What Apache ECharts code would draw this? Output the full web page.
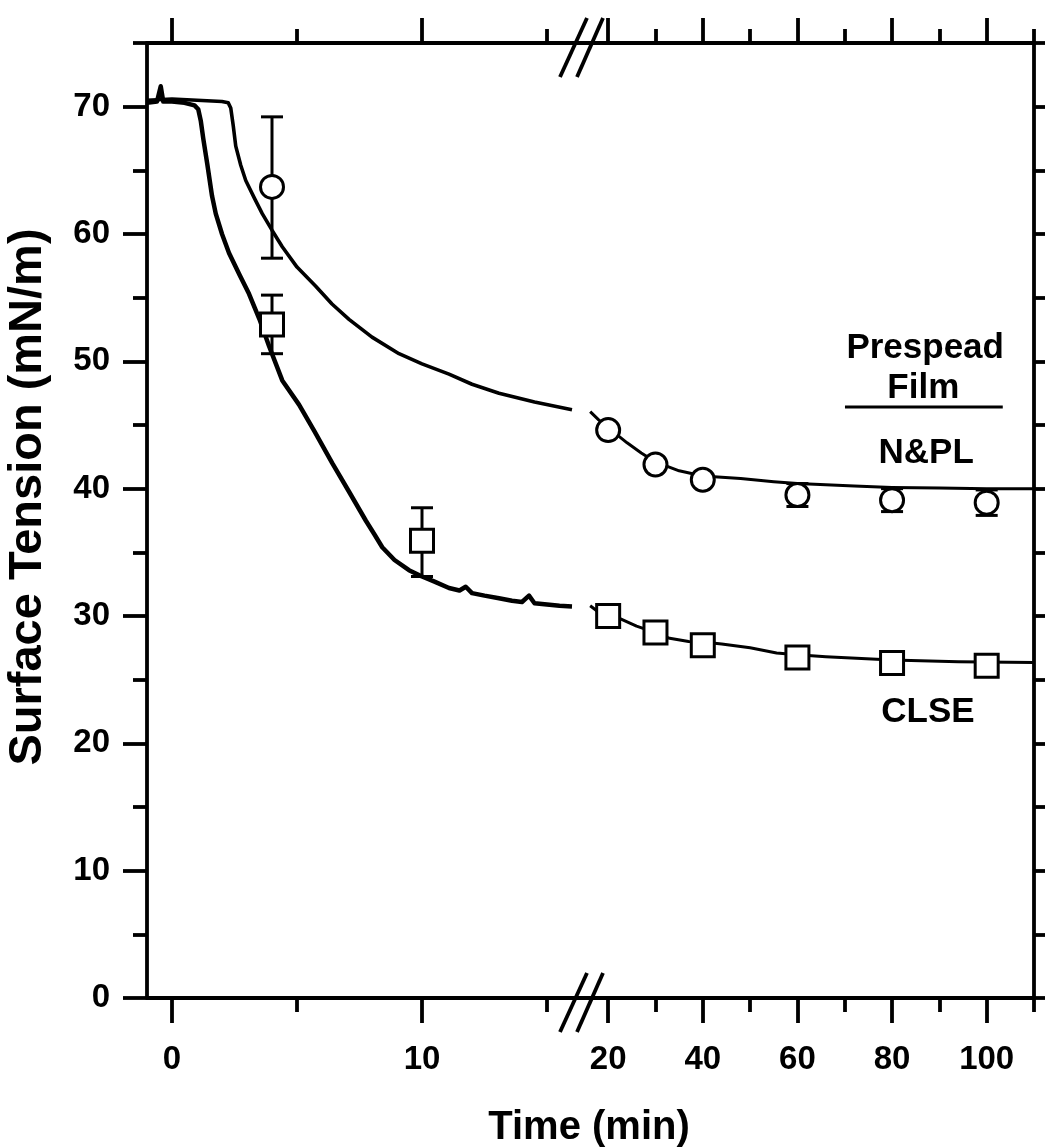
<!DOCTYPE html>
<html>
<head>
<meta charset="utf-8">
<script src="https://cdn.jsdelivr.net/npm/echarts@6/dist/echarts.min.js"></script>
<style>
html, body { margin: 0; padding: 0; background: #fff; }
#main { width: 1045px; height: 1147px; }
</style>
</head>
<body>
<div id="main"></div>
<script>
// values: time in min, surface tension in mN/m
// left part of the broken time axis (-1 .. 16.5 min)
var clseTimeA    = [-1.0, -0.6, -0.45, -0.35, 0, 0.5, 0.9, 1.05, 1.15, 1.25, 1.41, 1.6, 1.75, 2.0, 2.28, 2.7, 3.08, 3.5, 3.88, 4.41, 5.08, 5.7, 6.41, 7.1, 7.75, 8.1, 8.41, 8.9, 9.48, 10.0, 10.5, 11.08, 11.5, 11.75, 12.0, 12.5, 13.08, 13.6, 14.0, 14.28, 14.5, 15.0, 15.5, 16.0];
var clseTensionA = [70.3, 70.4, 71.6, 70.4, 70.4, 70.3, 70.1, 69.8, 68.9, 67.5, 65.5, 63.0, 61.6, 60.0, 58.5, 56.8, 55.3, 53.3, 51.2, 48.5, 46.6, 44.5, 42.0, 39.7, 37.5, 36.4, 35.4, 34.4, 33.6, 33.1, 32.7, 32.2, 32.0, 32.3, 31.8, 31.6, 31.4, 31.2, 31.1, 31.6, 31.0, 30.9, 30.8, 30.75];
var nplTimeA     = [-1.0, 0, 1.0, 2.0, 2.25, 2.35, 2.45, 2.55, 2.75, 2.95, 3.3, 3.61, 4.0, 4.41, 5.0, 5.75, 6.4, 7.08, 8.0, 9.08, 10.0, 11.08, 12.0, 13.08, 14.5, 16.0];
var nplTensionA  = [70.5, 70.6, 70.5, 70.4, 70.3, 69.9, 68.5, 66.9, 65.4, 64.2, 62.8, 61.6, 60.3, 59.0, 57.4, 55.9, 54.5, 53.3, 51.9, 50.6, 49.8, 49.0, 48.2, 47.5, 46.8, 46.2];

// right part of the broken time axis (15 .. 110 min)
var clseTimeB    = [16.2, 18, 20, 22.5, 26, 30, 33, 37, 40, 44, 50, 55.6, 60, 66, 80, 94, 110];
var clseTensionB = [30.8, 30.3, 30.0, 29.8, 29.2, 28.7, 28.25, 28.0, 27.95, 27.8, 27.5, 27.1, 26.95, 26.8, 26.55, 26.4, 26.35];
var nplTimeB     = [16.2, 18, 20, 24, 27, 30, 35, 40, 48, 55, 60, 72, 80, 90, 100, 110];
var nplTensionB  = [46.05, 45.4, 44.8, 43.6, 42.8, 42.1, 41.4, 41.0, 40.8, 40.55, 40.4, 40.2, 40.1, 40.05, 40.0, 40.0];

// measured points (mean, low, high)
var nplPtTimeA  = [4];
var nplPtMeanA  = [63.7];
var nplPtLowA   = [58.1];
var nplPtHighA  = [69.2];
var clsePtTimeA = [4, 10];
var clsePtMeanA = [52.9, 35.9];
var clsePtLowA  = [50.6, 33.1];
var clsePtHighA = [55.2, 38.5];

var nplPtTimeB  = [20, 30, 40, 60, 80, 100];
var nplPtMeanB  = [44.6, 41.9, 40.7, 39.5, 39.1, 38.9];
var nplPtLowB   = [44.6, 41.9, 40.7, 38.6, 38.2, 37.9];
var nplPtHighB  = [44.6, 41.9, 40.7, 40.4, 40.0, 39.9];
var clsePtTimeB = [20, 30, 40, 60, 80, 100];
var clsePtMeanB = [30.0, 28.7, 27.7, 26.75, 26.3, 26.1];

// axis ticks
var xMajorA = [0, 10];
var xMinorA = [5, 15];
var xMajorB = [20, 40, 60, 80, 100];
var xMinorB = [30, 50, 70, 90, 110];
var yMajor = [0, 10, 20, 30, 40, 50, 60, 70];
var yMinor = [5, 15, 25, 35, 45, 55, 65, 75];

var FONT = "'Liberation Sans', Arial, Helvetica, sans-serif";

function pairs(xs, ys) {
    var out = [];
    for (var i = 0; i < xs.length; i++) out.push([xs[i], ys[i]]);
    return out;
}
function triples(xs, lo, hi) {
    var out = [];
    for (var i = 0; i < xs.length; i++) {
        if (hi[i] - lo[i] > 0) out.push([xs[i], lo[i], hi[i]]);
    }
    return out;
}

function axis(gridIndex, position, min, max, ticks, tickLen, showLabels, showLine) {
    return {
        type: 'value',
        gridIndex: gridIndex,
        position: position,
        min: min,
        max: max,
        axisLine: { show: showLine, onZero: false, lineStyle: { color: '#000', width: 3.8 } },
        axisTick: { show: true, inside: false, length: tickLen, customValues: ticks,
                    lineStyle: { color: '#000', width: 3.8 } },
        axisLabel: { show: showLabels, customValues: ticks, color: '#000',
                     fontFamily: FONT, fontWeight: 'bold', fontSize: 33,
                     margin: (position === 'bottom') ? 45 : 37 },
        splitLine: { show: false },
        minorTick: { show: false }
    };
}

function errorBar(params, api) {
    var x = api.value(0);
    var top = api.coord([x, api.value(2)]);
    var bot = api.coord([x, api.value(1)]);
    var cap = 11;
    var st = { stroke: '#000', lineWidth: 3 };
    return {
        type: 'group',
        children: [
            { type: 'line', shape: { x1: top[0], y1: top[1], x2: bot[0], y2: bot[1] }, style: st },
            { type: 'line', shape: { x1: top[0] - cap, y1: top[1], x2: top[0] + cap, y2: top[1] }, style: st },
            { type: 'line', shape: { x1: bot[0] - cap, y1: bot[1], x2: bot[0] + cap, y2: bot[1] }, style: st }
        ]
    };
}

var gridTop = 43, gridBottom = 149;
var grids = [
    { left: 147, top: gridTop, width: 437.5, bottom: gridBottom },
    { left: 147, top: gridTop, width: 437.5, bottom: gridBottom },
    { left: 584.5, top: gridTop, width: 449.5, bottom: gridBottom },
    { left: 584.5, top: gridTop, width: 449.5, bottom: gridBottom }
];
grids.forEach(function (g) { g.containLabel = false; g.outerBoundsMode = 'none'; });

var myChart = echarts.init(document.getElementById('main'));

var curveA = { type: 'line', xAxisIndex: 0, yAxisIndex: 0, showSymbol: false, z: 2, smooth: false };
var curveB = { type: 'line', xAxisIndex: 4, yAxisIndex: 2, showSymbol: false, z: 2, smooth: false };
var markStyle = { color: '#fff', borderColor: '#000', borderWidth: 3, opacity: 1 };

var option = {
    animation: false,
    backgroundColor: '#fff',
    textStyle: { fontFamily: FONT, color: '#000' },
    title: {
        text: 'Time (min)',
        left: 584,
        top: 1103,
        textAlign: 'center',
        textStyle: { fontFamily: FONT, fontWeight: 'bold', fontSize: 40, color: '#000' }
    },
    grid: grids,
    xAxis: [
        axis(0, 'bottom', -1, 16.5, xMajorA, 25, true, true),
        axis(0, 'top', -1, 16.5, xMajorA, 25, false, true),
        axis(1, 'bottom', -1, 16.5, xMinorA, 14, false, false),
        axis(1, 'top', -1, 16.5, xMinorA, 14, false, false),
        axis(2, 'bottom', 15, 110, xMajorB, 25, true, true),
        axis(2, 'top', 15, 110, xMajorB, 25, false, true),
        axis(3, 'bottom', 15, 110, xMinorB, 14, false, false),
        axis(3, 'top', 15, 110, xMinorB, 14, false, false)
    ],
    yAxis: [
        axis(0, 'left', 0, 75, yMajor, 24, true, true),
        axis(1, 'left', 0, 75, yMinor, 14, false, false),
        axis(2, 'right', 0, 75, yMajor, 24, false, true),
        axis(3, 'right', 0, 75, yMinor, 14, false, false)
    ],
    series: [
        Object.assign({ name: 'CLSE', lineStyle: { color: '#000', width: 4.5, join: 'round' },
                        data: pairs(clseTimeA, clseTensionA) }, curveA),
        Object.assign({ name: 'N&PL', lineStyle: { color: '#000', width: 3.6, join: 'round' },
                        data: pairs(nplTimeA, nplTensionA) }, curveA),
        Object.assign({ name: 'CLSE', lineStyle: { color: '#000', width: 3, join: 'round' },
                        data: pairs(clseTimeB, clseTensionB) }, curveB),
        Object.assign({ name: 'N&PL', lineStyle: { color: '#000', width: 3, join: 'round' },
                        data: pairs(nplTimeB, nplTensionB) }, curveB),

        { type: 'custom', xAxisIndex: 0, yAxisIndex: 0, z: 3, renderItem: errorBar,
          encode: { x: 0, y: [1, 2] }, data: triples(nplPtTimeA, nplPtLowA, nplPtHighA) },
        { type: 'custom', xAxisIndex: 0, yAxisIndex: 0, z: 3, renderItem: errorBar,
          encode: { x: 0, y: [1, 2] }, data: triples(clsePtTimeA, clsePtLowA, clsePtHighA) },
        { type: 'custom', xAxisIndex: 4, yAxisIndex: 2, z: 3, renderItem: errorBar,
          encode: { x: 0, y: [1, 2] }, data: triples(nplPtTimeB, nplPtLowB, nplPtHighB) },

        { type: 'scatter', xAxisIndex: 0, yAxisIndex: 0, z: 4, symbol: 'circle', symbolSize: 23,
          itemStyle: markStyle, data: pairs(nplPtTimeA, nplPtMeanA) },
        { type: 'scatter', xAxisIndex: 0, yAxisIndex: 0, z: 4, symbol: 'rect', symbolSize: 23,
          itemStyle: markStyle, data: pairs(clsePtTimeA, clsePtMeanA) },
        { type: 'scatter', xAxisIndex: 4, yAxisIndex: 2, z: 4, symbol: 'circle', symbolSize: 23,
          itemStyle: markStyle, data: pairs(nplPtTimeB, nplPtMeanB) },
        { type: 'scatter', xAxisIndex: 4, yAxisIndex: 2, z: 4, symbol: 'rect', symbolSize: 23,
          itemStyle: markStyle, data: pairs(clsePtTimeB, clsePtMeanB) }
    ]
};
myChart.setOption(option);

// break marks, axis title and annotations, placed from the axes
var seamBot = myChart.convertToPixel({ xAxisIndex: 0, yAxisIndex: 0 }, [16.5, 0]);
var seamTop = myChart.convertToPixel({ xAxisIndex: 0, yAxisIndex: 0 }, [16.5, 75]);
var toB = function (t, v) { return myChart.convertToPixel({ xAxisIndex: 4, yAxisIndex: 2 }, [t, v]); };

var breakStyle = { stroke: '#000', lineWidth: 3.8 };
function slashes(p) {
    return [
        { type: 'line', shape: { x1: p[0] - 24.5, y1: p[1] + 34, x2: p[0] + 2.5, y2: p[1] - 25 }, style: breakStyle, z: 10 },
        { type: 'line', shape: { x1: p[0] - 7.5, y1: p[1] + 34, x2: p[0] + 18.5, y2: p[1] - 25 }, style: breakStyle, z: 10 }
    ];
}

function label(text, pos) {
    return { type: 'text', x: pos[0], y: pos[1], z: 10,
             style: { text: text, align: 'center', verticalAlign: 'middle', fill: '#000',
                      font: 'bold 35px ' + FONT } };
}

var lineL = toB(70.05, 46.41), lineR = toB(103.4, 46.41);
var graphics = [].concat(slashes(seamBot), slashes(seamTop), [
    { type: 'text', x: 28, y: 497, rotation: Math.PI / 2, z: 10,
      style: { text: 'Surface Tension (mN/m)', align: 'center', verticalAlign: 'middle', fill: '#000',
               font: 'bold 47px ' + FONT } },
    label('Prespead', toB(87.0, 51.05)),
    label('Film', toB(86.6, 47.9)),
    { type: 'line', shape: { x1: lineL[0], y1: lineL[1], x2: lineR[0], y2: lineR[1] }, style: { stroke: '#000', lineWidth: 3 }, z: 10 },
    label('N&PL', toB(87.2, 42.8)),
    label('CLSE', toB(87.6, 22.46))
]);
myChart.setOption({ graphic: graphics });
</script>
</body>
</html>
